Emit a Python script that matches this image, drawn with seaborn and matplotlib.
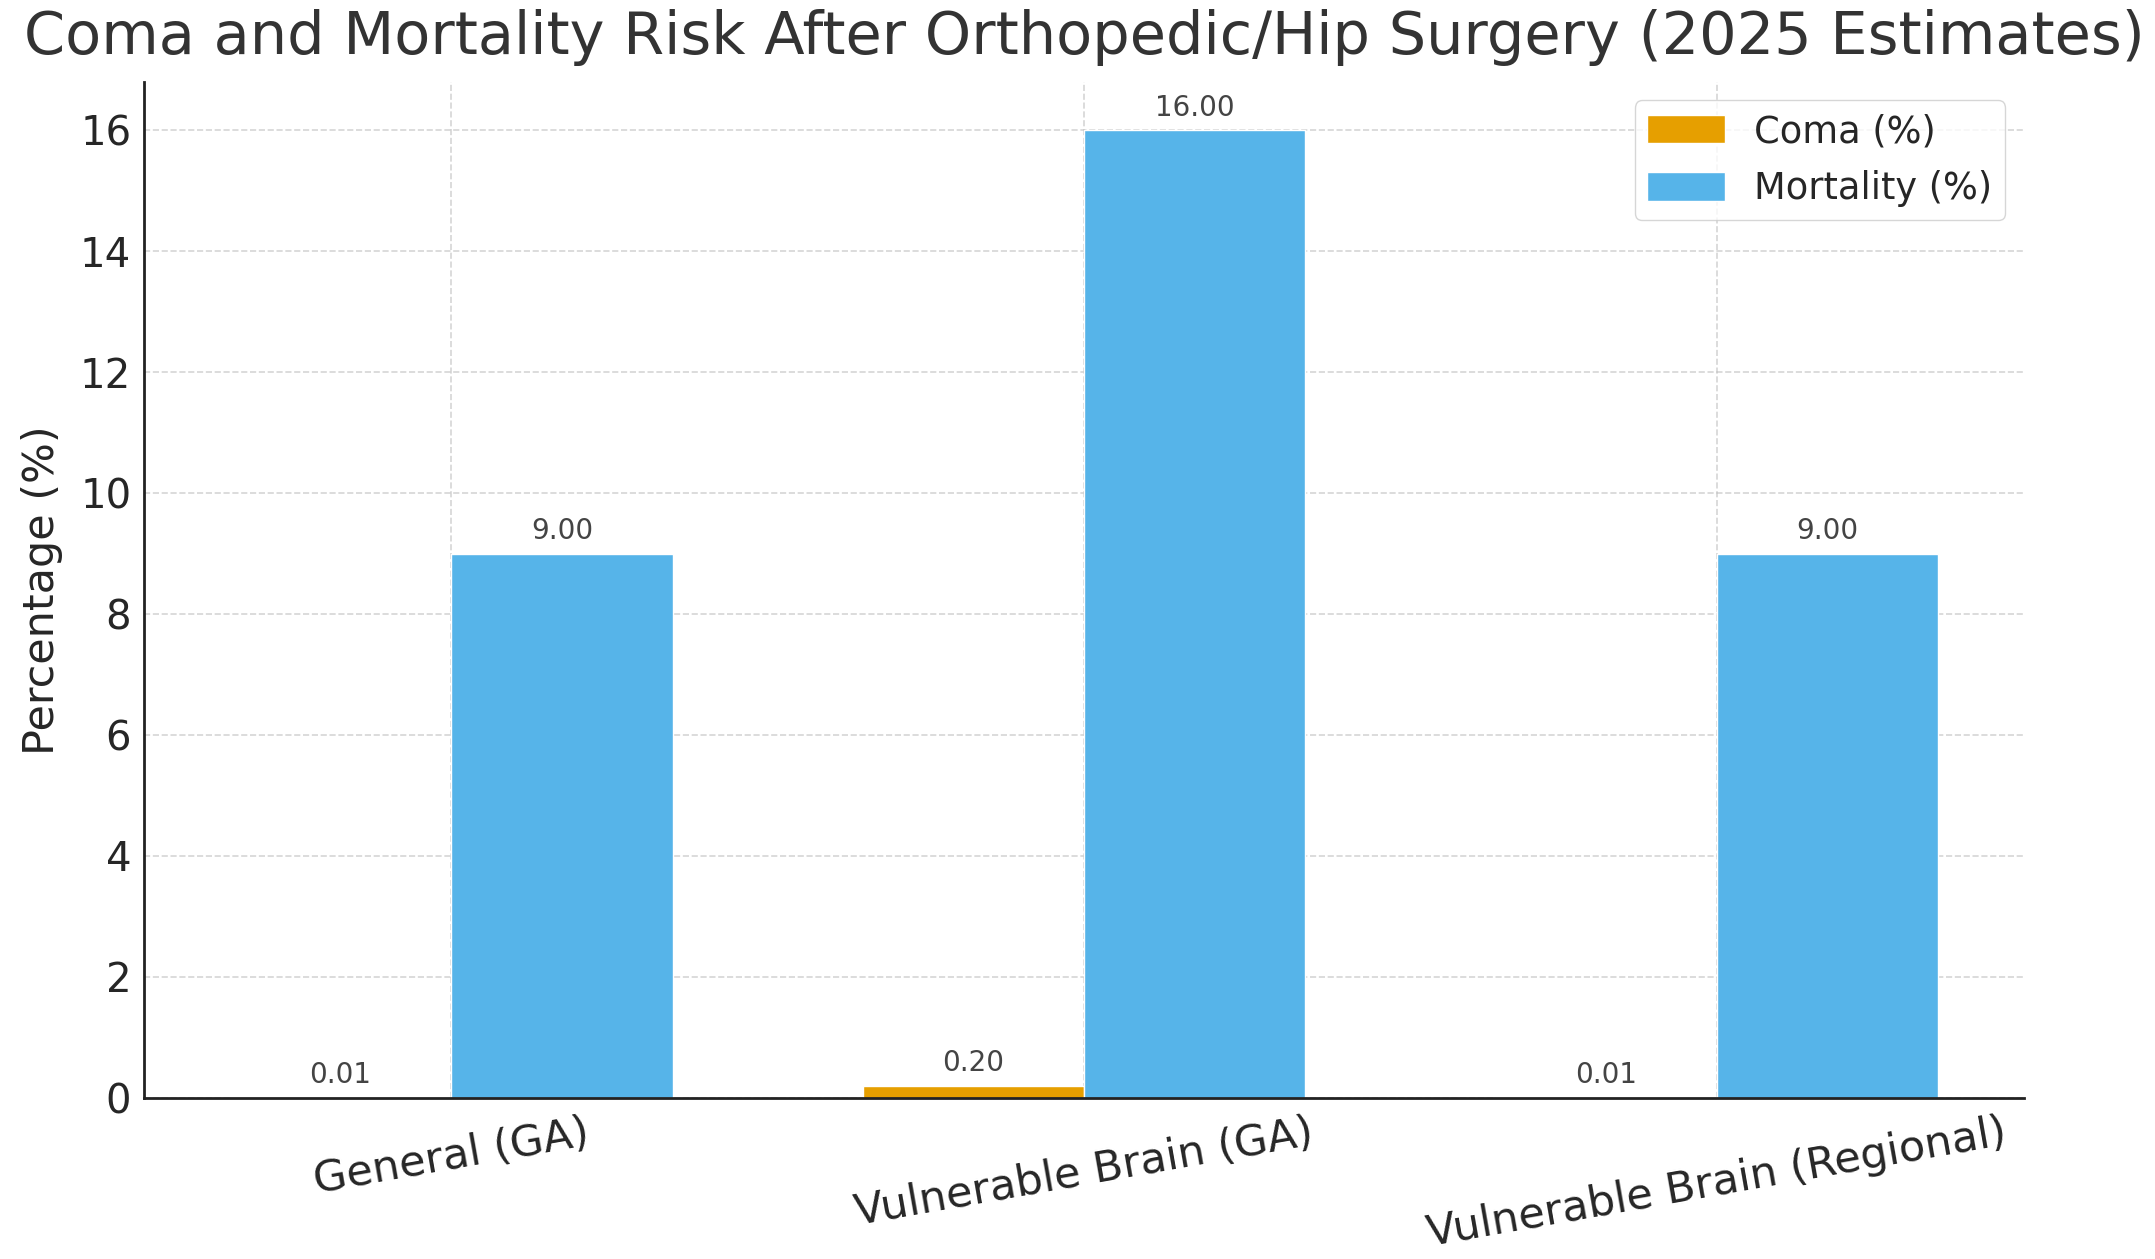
import matplotlib
matplotlib.use("Agg")
import matplotlib.pyplot as plt
import pandas as pd
import seaborn as sns

# values
groups = ['General (GA)', 'Vulnerable Brain (GA)', 'Vulnerable Brain (Regional)']
coma = [0.01, 0.20, 0.01]
mortality = [9.0, 16.0, 9.0]
series = ['Coma (%)', 'Mortality (%)']
colors = ['#E69F00', '#56B4E9']

df = pd.DataFrame({
    'Group': groups * 2,
    'Value': coma + mortality,
    'Metric': [series[0]] * 3 + [series[1]] * 3,
})

sns.set_style('white')
plt.rcParams['font.family'] = ['DejaVu Sans']

fig, ax = plt.subplots(figsize=(21.55, 12.59), dpi=100)
sns.barplot(data=df, x='Group', y='Value', hue='Metric', hue_order=series,
            palette=colors, width=0.7, gap=0, saturation=1, ax=ax)

for cont in ax.containers:
    ax.bar_label(cont, fmt='%.2f', padding=6, fontsize=20, color='#444444')

ax.set_xlim(-0.485, 2.485)
ax.set_ylim(0, 16.8)
ax.grid(True, linestyle='--', alpha=0.6, color='#bbbbbb', linewidth=1.2)
ax.set_axisbelow(True)
sns.despine(ax=ax)
for s in ['left', 'bottom']:
    ax.spines[s].set_color('#222222')
    ax.spines[s].set_linewidth(2)

ax.tick_params(axis='both', length=6, width=1.5, color='#222222')
ax.tick_params(axis='y', labelsize=29)
ax.tick_params(axis='x', labelsize=31, rotation=10, pad=4)
ax.set_xlabel('')
ax.set_ylabel('Percentage (%)', fontsize=31, labelpad=12)
ax.set_title('Coma and Mortality Risk After Orthopedic/Hip Surgery (2025 Estimates)',
             fontsize=42.5, pad=20, color='#333333')

leg = ax.legend(loc='upper right', fontsize=26.5, title=None, frameon=True,
                borderpad=0.35, labelspacing=0.55, handlelength=2.1,
                handleheight=0.8, handletextpad=0.8)

fig.subplots_adjust(left=0.067, right=0.939, top=0.935, bottom=0.128)
fig.savefig('out.png', dpi=100)
